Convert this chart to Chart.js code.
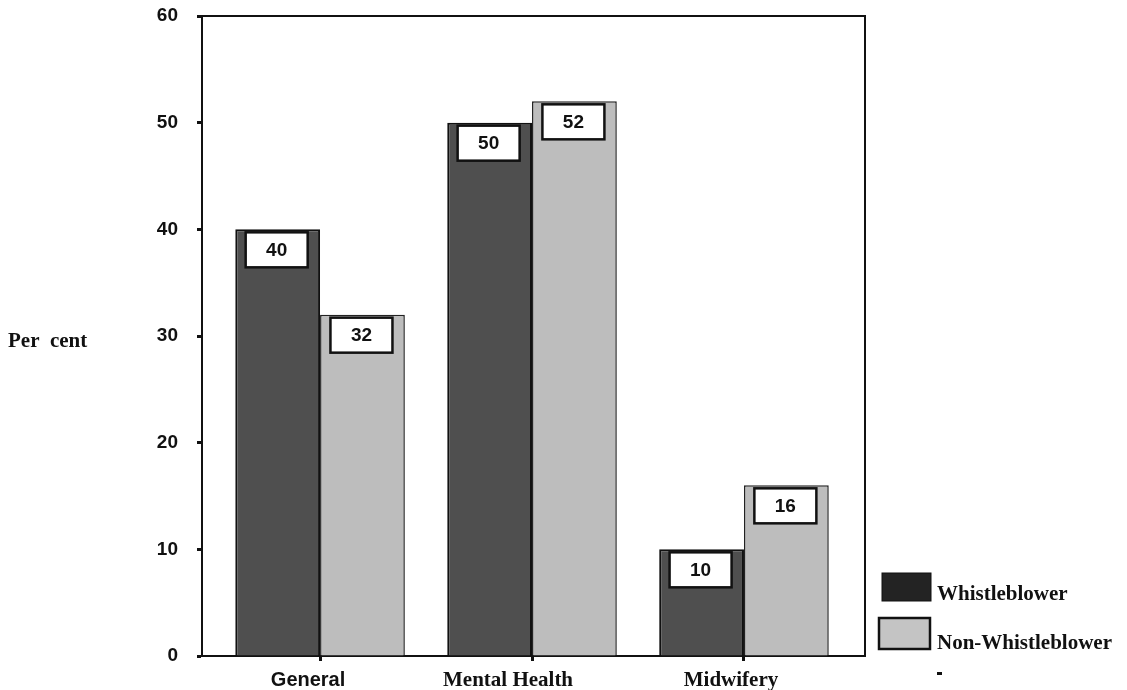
<!DOCTYPE html>
<html>
<head>
<meta charset="utf-8">
<script src="https://cdn.jsdelivr.net/npm/chart.js@4.4.0/dist/chart.umd.min.js"></script>
<style>
html,body{margin:0;padding:0;background:#fff;}
#wrap{width:1127px;height:690px;position:relative;}
</style>
</head>
<body>
<div id="wrap"><canvas id="c" width="1127" height="690"></canvas></div>
<script>
const categories = ['General', 'Mental Health', 'Midwifery'];
const whistleblower = [40, 50, 10];
const nonWhistleblower = [32, 52, 16];
const seriesNames = ['Whistleblower', 'Non-Whistleblower'];
const yTickValues = [0, 10, 20, 30, 40, 50, 60];
const yAxisTitle = 'Per  cent';

const SANS = '"Liberation Sans", Arial, sans-serif';
const SERIF = '"Liberation Serif", "Times New Roman", serif';

// style constants (layout only)
const X_MIN = 0.443, X_MAX = 3.571;
const PX_PER_UNIT = 212;
const LABEL_SHIFT_PX = [-12, -24, -13];

const toPoints = arr => arr.map((v, i) => ({ x: i + 1, y: v }));

const frameAndLabels = {
  id: 'frameAndLabels',
  beforeDatasetsDraw(chart) {
    const { ctx, chartArea: a } = chart;
    ctx.save();
    ctx.strokeStyle = '#111';
    ctx.lineWidth = 2;
    ctx.beginPath();
    ctx.moveTo(a.left, a.top);
    ctx.lineTo(a.right, a.top);
    ctx.lineTo(a.right, a.bottom);
    ctx.stroke();
    ctx.restore();
  },
  afterDatasetsDraw(chart) {
    const { ctx } = chart;
    ctx.save();
    chart.data.datasets.forEach((ds, di) => {
      const meta = chart.getDatasetMeta(di);
      meta.data.forEach((bar, i) => {
        const w = 62, h = 35;
        const x = bar.x - 1 - w / 2;
        const y = bar.y + 3;
        ctx.fillStyle = '#fff';
        ctx.fillRect(x, y, w, h);
        ctx.strokeStyle = '#111';
        ctx.lineWidth = 2.5;
        ctx.strokeRect(x, y, w, h);
        ctx.fillStyle = '#111';
        ctx.font = 'bold 19px ' + SANS;
        ctx.textAlign = 'center';
        ctx.textBaseline = 'middle';
        ctx.fillText(String(ds.data[i].y), x + w / 2, y + h / 2 + 1);
      });
    });
    // y-axis title
    ctx.fillStyle = '#111';
    ctx.font = 'bold 21px ' + SERIF;
    ctx.textAlign = 'left';
    ctx.textBaseline = 'alphabetic';
    ctx.fillText(yAxisTitle, 8, 347);
    // custom legend
    const items = [
      { box: [882, 573, 49, 28], fill: '#232323', y: 600 },
      { box: [879, 618, 51, 31], fill: '#c4c4c4', y: 649 }
    ];
    items.forEach((it, k) => {
      const [bx, by, bw, bh] = it.box;
      ctx.fillStyle = it.fill;
      ctx.fillRect(bx, by, bw, bh);
      ctx.strokeStyle = '#111';
      ctx.lineWidth = k === 0 ? 1 : 2.5;
      ctx.strokeRect(bx, by, bw, bh);
      ctx.fillStyle = '#111';
      ctx.font = 'bold 21px ' + SERIF;
      ctx.textAlign = 'left';
      ctx.textBaseline = 'alphabetic';
      ctx.fillText(seriesNames[k], 937, it.y);
    });
    ctx.fillRect(937, 672, 5, 3);
    ctx.restore();
  }
};

new Chart(document.getElementById('c'), {
  type: 'bar',
  data: {
    datasets: [
      {
        label: seriesNames[0],
        data: toPoints(whistleblower),
        xAxisID: 'x',
        backgroundColor: '#4f4f4f',
        borderColor: '#111',
        borderWidth: 2,
        categoryPercentage: 0.8,
        barPercentage: 1.0
      },
      {
        label: seriesNames[1],
        data: toPoints(nonWhistleblower),
        xAxisID: 'x',
        backgroundColor: '#bdbdbd',
        borderColor: '#222',
        borderWidth: 1.5,
        categoryPercentage: 0.8,
        barPercentage: 1.0
      }
    ]
  },
  options: {
    responsive: false,
    animation: false,
    layout: { padding: { top: 16, right: 262, left: 0, bottom: 0 } },
    plugins: { legend: { display: false }, tooltip: { enabled: false } },
    scales: {
      x: {
        type: 'linear',
        position: 'bottom',
        weight: 0,
        offset: false,
        min: X_MIN,
        max: X_MAX,
        afterBuildTicks(scale) {
          scale.ticks = categories.map((c, i) => ({ value: i + 1 }));
        },
        afterFit(scale) { scale.height = 5; scale.paddingLeft = 0; scale.paddingRight = 0; },
        grid: { display: true, drawOnChartArea: false, offset: false, tickLength: 5, tickWidth: 3, color: '#111' },
        border: { display: true, color: '#111', width: 2 },
        ticks: { display: false }
      },
      xl: {
        type: 'linear',
        position: 'bottom',
        weight: 1,
        offset: false,
        min: X_MIN,
        max: X_MAX,
        afterBuildTicks(scale) {
          scale.ticks = categories.map((c, i) => ({ value: i + 1 + LABEL_SHIFT_PX[i] / PX_PER_UNIT }));
        },
        afterFit(scale) { scale.height = 29; scale.paddingLeft = 0; scale.paddingRight = 0; },
        grid: { display: false },
        border: { display: false },
        ticks: {
          autoSkip: false,
          maxRotation: 0,
          padding: -1,
          color: '#111',
          callback: (v, i) => categories[i] || '',
          font: ctx => {
            const i = ctx.index || 0;
            return i === 0
              ? { family: SANS, size: 20, weight: 'bold' }
              : { family: SERIF, size: 21, weight: 'bold' };
          }
        }
      },
      y: {
        min: 0,
        max: 60,
        afterBuildTicks(scale) {
          scale.ticks = yTickValues.map(v => ({ value: v }));
        },
        afterFit(scale) { scale.width = 202; scale.paddingTop = 0; scale.paddingBottom = 0; },
        grid: { display: true, drawOnChartArea: false, tickLength: 5, tickWidth: 3, color: '#111' },
        border: { display: true, color: '#111', width: 2 },
        ticks: {
          padding: 19,
          color: '#111',
          font: { family: SANS, size: 19, weight: 'bold' }
        }
      }
    }
  },
  plugins: [frameAndLabels]
});
</script>
</body>
</html>
